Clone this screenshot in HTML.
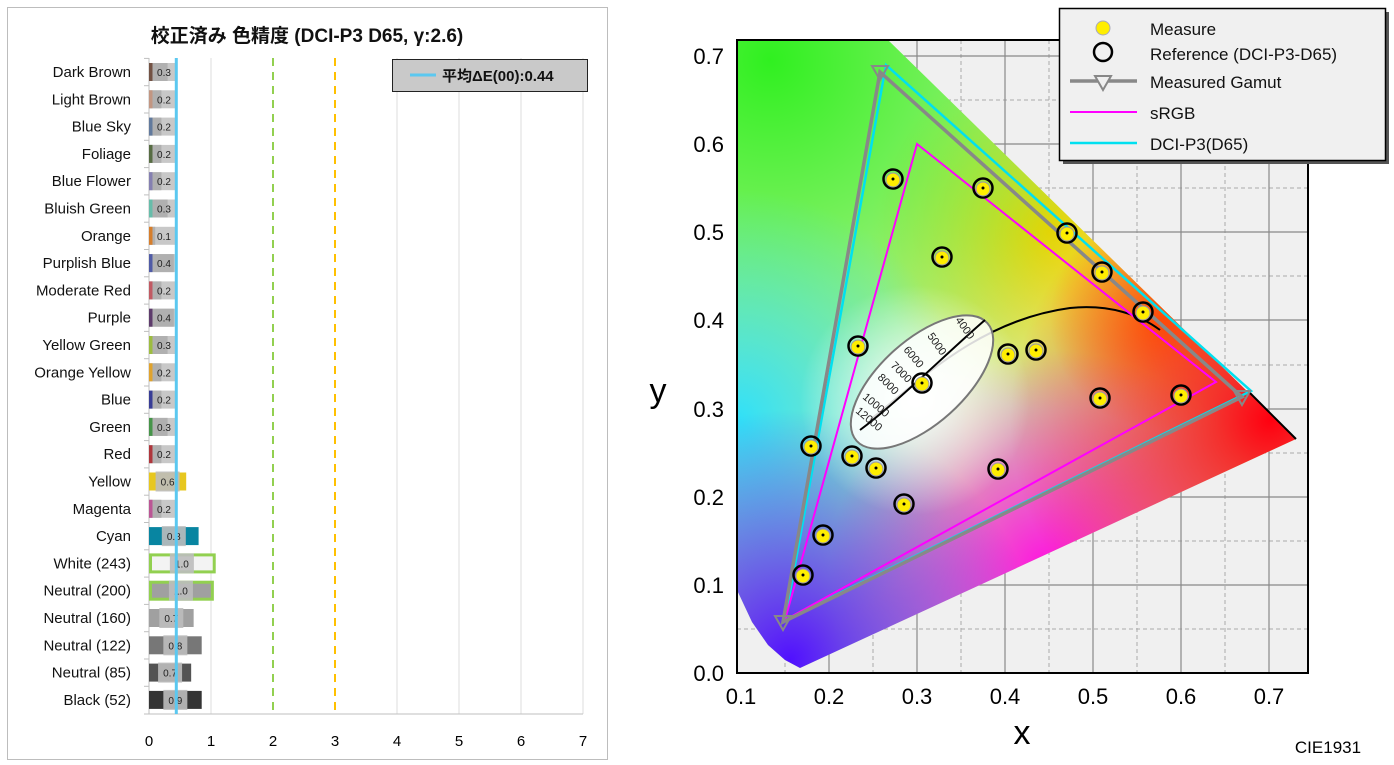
<!DOCTYPE html>
<html><head><meta charset="utf-8"><style>
body{margin:0;background:#fff;width:1394px;height:765px;overflow:hidden}
svg{display:block}
text{font-family:"Liberation Sans","Noto Sans CJK JP",sans-serif}
</style></head><body>
<svg width="1394" height="765" viewBox="0 0 1394 765" xmlns="http://www.w3.org/2000/svg">
<defs>
<clipPath id="plot"><rect x="737" y="40" width="571" height="633"/></clipPath>
<clipPath id="locus"><polygon points="737,40 888,40 1296,439 800,668 785,660 768,645 752,622 737,590"/></clipPath>
<radialGradient id="gG" cx="770" cy="60" r="380" gradientUnits="userSpaceOnUse"><stop offset="0" stop-color="#30f020"/><stop offset="1" stop-color="#30f020" stop-opacity="0"/></radialGradient>
<radialGradient id="gC" cx="737" cy="420" r="230" gradientUnits="userSpaceOnUse"><stop offset="0" stop-color="#30e0f8"/><stop offset="1" stop-color="#30e0f8" stop-opacity="0"/></radialGradient>
<radialGradient id="gB" cx="790" cy="660" r="250" gradientUnits="userSpaceOnUse"><stop offset="0" stop-color="#5010ff"/><stop offset="1" stop-color="#5010ff" stop-opacity="0"/></radialGradient>
<radialGradient id="gM" cx="1050" cy="570" r="220" gradientUnits="userSpaceOnUse"><stop offset="0" stop-color="#ff10e0"/><stop offset="1" stop-color="#ff10e0" stop-opacity="0"/></radialGradient>
<radialGradient id="gR" cx="1270" cy="420" r="260" gradientUnits="userSpaceOnUse"><stop offset="0" stop-color="#ff0010"/><stop offset="1" stop-color="#ff0010" stop-opacity="0"/></radialGradient>
<radialGradient id="gY" cx="1050" cy="230" r="180" gradientUnits="userSpaceOnUse"><stop offset="0" stop-color="#ffd000"/><stop offset="1" stop-color="#ffd000" stop-opacity="0"/></radialGradient>
<radialGradient id="gO" cx="1160" cy="320" r="110" gradientUnits="userSpaceOnUse"><stop offset="0" stop-color="#ff8000"/><stop offset="1" stop-color="#ff8000" stop-opacity="0"/></radialGradient>
<radialGradient id="gW" cx="915" cy="400" r="115" gradientUnits="userSpaceOnUse"><stop offset="0" stop-color="#ffffff"/><stop offset="1" stop-color="#ffffff" stop-opacity="0"/></radialGradient>
</defs>

<!-- LEFT CHART -->
<rect x="7.5" y="7.5" width="600" height="752" fill="#fff" stroke="#bdbdbd"/>
<text x="307" y="42" font-size="19" font-weight="bold" text-anchor="middle" fill="#111">校正済み 色精度 (DCI-P3 D65, γ:2.6)</text>
<g stroke="#dedede" stroke-width="1">
<line x1="211" y1="58" x2="211" y2="714"/><line x1="397" y1="58" x2="397" y2="714"/><line x1="459" y1="58" x2="459" y2="714"/><line x1="521" y1="58" x2="521" y2="714"/><line x1="583" y1="58" x2="583" y2="714"/>
</g>
<line x1="273" y1="58" x2="273" y2="714" stroke="#92d050" stroke-width="2" stroke-dasharray="8,6"/>
<line x1="335" y1="58" x2="335" y2="714" stroke="#ffc000" stroke-width="2" stroke-dasharray="8,6"/>
<line x1="149" y1="714" x2="583" y2="714" stroke="#bfbfbf"/>
<line x1="149" y1="58" x2="149" y2="714" stroke="#bfbfbf"/>
<g id="bars"></g>
<line x1="176.3" y1="58" x2="176.3" y2="714" stroke="#5bc8f0" stroke-width="3"/>
<g font-size="15" fill="#000" text-anchor="middle">
<text x="149" y="746">0</text><text x="211" y="746">1</text><text x="273" y="746">2</text><text x="335" y="746">3</text><text x="397" y="746">4</text><text x="459" y="746">5</text><text x="521" y="746">6</text><text x="583" y="746">7</text>
</g>
<rect x="392.5" y="59.5" width="195" height="32" fill="#c9c9c9" stroke="#222"/>
<line x1="410" y1="75" x2="436" y2="75" stroke="#5bc8f0" stroke-width="3"/>
<text x="442" y="81" font-size="15" font-weight="bold" fill="#111">平均ΔE(00):0.44</text>

<!-- RIGHT CHART -->
<rect x="737" y="40" width="571" height="633" fill="#f0f0f0"/>
<g clip-path="url(#plot)">
<g stroke="#aaa" stroke-width="1" stroke-dasharray="4,3">
<line x1="785" y1="40" x2="785" y2="673"/><line x1="873" y1="40" x2="873" y2="673"/><line x1="961" y1="40" x2="961" y2="673"/><line x1="1049" y1="40" x2="1049" y2="673"/><line x1="1137" y1="40" x2="1137" y2="673"/><line x1="1225" y1="40" x2="1225" y2="673"/>
<line x1="737" y1="629" x2="1308" y2="629"/><line x1="737" y1="541" x2="1308" y2="541"/><line x1="737" y1="453" x2="1308" y2="453"/><line x1="737" y1="365" x2="1308" y2="365"/><line x1="737" y1="276" x2="1308" y2="276"/><line x1="737" y1="188" x2="1308" y2="188"/><line x1="737" y1="100" x2="1308" y2="100"/>
</g>
<g stroke="#888" stroke-width="1.2">
<line x1="829" y1="40" x2="829" y2="673"/><line x1="917" y1="40" x2="917" y2="673"/><line x1="1005" y1="40" x2="1005" y2="673"/><line x1="1093" y1="40" x2="1093" y2="673"/><line x1="1181" y1="40" x2="1181" y2="673"/><line x1="1269" y1="40" x2="1269" y2="673"/>
<line x1="737" y1="585" x2="1308" y2="585"/><line x1="737" y1="497" x2="1308" y2="497"/><line x1="737" y1="409" x2="1308" y2="409"/><line x1="737" y1="320" x2="1308" y2="320"/><line x1="737" y1="232" x2="1308" y2="232"/><line x1="737" y1="144" x2="1308" y2="144"/><line x1="737" y1="56" x2="1308" y2="56"/>
</g>
<g clip-path="url(#locus)">
<rect x="700" y="0" width="650" height="700" fill="#c8f0a0"/>
<rect x="700" y="0" width="650" height="700" fill="url(#gY)"/>
<rect x="700" y="0" width="650" height="700" fill="url(#gO)"/>
<rect x="700" y="0" width="650" height="700" fill="url(#gG)"/>
<rect x="700" y="0" width="650" height="700" fill="url(#gC)"/>
<rect x="700" y="0" width="650" height="700" fill="url(#gM)"/>
<rect x="700" y="0" width="650" height="700" fill="url(#gR)"/>
<rect x="700" y="0" width="650" height="700" fill="url(#gB)"/>
<rect x="700" y="0" width="650" height="700" fill="url(#gW)"/>
</g>
<line x1="1296" y1="439" x2="1250" y2="393" stroke="#000" stroke-width="2"/>
</g>
<rect x="737" y="40" width="571" height="633" fill="none" stroke="#000" stroke-width="2"/>

<!-- planckian -->
<path d="M870,420 C920,380 980,320 1070,308 C1110,304 1140,315 1160,330" fill="none" stroke="#000" stroke-width="2"/>
<ellipse cx="922" cy="382" rx="88" ry="42" transform="rotate(-42 922 382)" fill="#fff" fill-opacity="0.85" stroke="#777" stroke-width="2"/>
<path d="M860,430 C900,400 950,350 985,320" fill="none" stroke="#000" stroke-width="2"/>
<g font-size="11" fill="#222">
<text x="955" y="320" transform="rotate(55 955 320)">4000</text>
<text x="927" y="336" transform="rotate(55 927 336)">5000</text>
<text x="903" y="350" transform="rotate(50 903 350)">6000</text>
<text x="890" y="366" transform="rotate(45 890 366)">7000</text>
<text x="877" y="378" transform="rotate(45 877 378)">8000</text>
<text x="862" y="398" transform="rotate(40 862 398)">10000</text>
<text x="855" y="412" transform="rotate(40 855 412)">12000</text>
</g>

<!-- gamuts -->
<polygon points="886,65 1251,391 785,620" fill="none" stroke="#00e0f0" stroke-width="2.5"/>
<polygon points="917,144 1216,382 785,620" fill="none" stroke="#ff00ff" stroke-width="2"/>
<polygon points="880,72 1242,397 783,622" fill="none" stroke="#888" stroke-width="3.5"/>
<g fill="none" stroke="#888" stroke-width="2">
<polygon points="872,66 888,66 880,80"/><polygon points="1234,391 1250,391 1242,405"/><polygon points="775,616 791,616 783,630"/>
</g>

<g id="pts"></g>

<g font-size="22" fill="#000" text-anchor="end">
<text x="724" y="64">0.7</text><text x="724" y="152">0.6</text><text x="724" y="240">0.5</text><text x="724" y="328">0.4</text><text x="724" y="417">0.3</text><text x="724" y="505">0.2</text><text x="724" y="593">0.1</text><text x="724" y="681">0.0</text>
</g>
<g font-size="22" fill="#000" text-anchor="middle">
<text x="741" y="704">0.1</text><text x="829" y="704">0.2</text><text x="917" y="704">0.3</text><text x="1005" y="704">0.4</text><text x="1093" y="704">0.5</text><text x="1181" y="704">0.6</text><text x="1269" y="704">0.7</text>
</g>
<text x="658" y="402" font-size="34" text-anchor="middle">y</text>
<text x="1022" y="744" font-size="34" text-anchor="middle">x</text>
<text x="1328" y="753" font-size="17" text-anchor="middle">CIE1931</text>

<!-- legend -->
<rect x="1063" y="12" width="326" height="152" fill="#555"/>
<rect x="1059.5" y="8.5" width="326" height="152" fill="#f0f0f0" stroke="#000" stroke-width="1.5"/>
<circle cx="1103" cy="28" r="7" fill="#ffee00" stroke="#aab" stroke-width="1"/>
<circle cx="1103" cy="52" r="9" fill="none" stroke="#000" stroke-width="2.5"/>
<line x1="1070" y1="81" x2="1137" y2="81" stroke="#888" stroke-width="3.5"/>
<polygon points="1095,76 1111,76 1103,90" fill="#f0f0f0" stroke="#888" stroke-width="2"/>
<line x1="1070" y1="112" x2="1137" y2="112" stroke="#ff00ff" stroke-width="2"/>
<line x1="1070" y1="143" x2="1137" y2="143" stroke="#00e0f0" stroke-width="2.5"/>
<g font-size="17" fill="#111">
<text x="1150" y="35">Measure</text><text x="1150" y="60">Reference (DCI-P3-D65)</text><text x="1150" y="88">Measured Gamut</text><text x="1150" y="119">sRGB</text><text x="1150" y="150">DCI-P3(D65)</text>
</g>
</svg>
<script>
const ns="http://www.w3.org/2000/svg";
function el(p,t,a,txt){const e=document.createElementNS(ns,t);for(const k in a)e.setAttribute(k,a[k]);if(txt!=null)e.textContent=txt;p.appendChild(e);return e;}
const bars=document.getElementById('bars');
const rows=[["Dark Brown","#735244",0.3],["Light Brown","#c29682",0.2],["Blue Sky","#627a9d",0.2],["Foliage","#576c43",0.2],["Blue Flower","#8580b1",0.2],["Bluish Green","#67bdaa",0.3],["Orange","#d67e2c",0.1],["Purplish Blue","#505ba6",0.4],["Moderate Red","#c15a63",0.2],["Purple","#5e3c6c",0.4],["Yellow Green","#9dbc40",0.3],["Orange Yellow","#e0a32e",0.2],["Blue","#383d96",0.2],["Green","#469449",0.3],["Red","#af363c",0.2],["Yellow","#e7c71f",0.6],["Magenta","#bb5695",0.2],["Cyan","#0885a1",0.8],["White (243)","#f3f3f3",1.06],["Neutral (200)","#a0a0a0",1.03],["Neutral (160)","#a0a0a0",0.72],["Neutral (122)","#777777",0.85],["Neutral (85)","#535353",0.68],["Black (52)","#343434",0.85]];
const lbl=["0.3","0.2","0.2","0.2","0.2","0.3","0.1","0.4","0.2","0.4","0.3","0.2","0.2","0.3","0.2","0.6","0.2","0.8","1.0","1.0","0.7","0.8","0.7","0.9"];
rows.forEach((r,i)=>{const cy=72+i*27.3;
el(bars,'line',{x1:144,x2:149,y1:cy-13.6,y2:cy-13.6,stroke:'#bfbfbf'});
el(bars,'text',{x:131,y:cy+5,'font-size':15,'text-anchor':'end',fill:'#111'},r[0]);
const w=r[2]*62;
if(r[2]<0.5){el(bars,'rect',{x:149,y:cy-9,width:28,height:18,fill:'#c8c8c8'});el(bars,'rect',{x:149,y:cy-9,width:Math.max(w,4),height:18,fill:'#b0b0b0'});el(bars,'rect',{x:149,y:cy-9,width:3.5,height:18,fill:r[1]});}
else el(bars,'rect',{x:149,y:cy-9,width:w,height:18,fill:r[1]});
if(i==18||i==19) el(bars,'rect',{x:150.5,y:cy-8.5,width:w-2,height:17,fill:'none',stroke:'#92d050','stroke-width':3});
const c=Math.max(149+w/2,164);
if(r[2]>=0.5) el(bars,'rect',{x:c-12,y:cy-10,width:24,height:20,fill:'#bdbdbd','fill-opacity':0.9});
el(bars,'text',{x:c,y:cy+4,'font-size':10,'text-anchor':'middle',fill:'#222'},lbl[i]);
});
el(bars,'line',{x1:144,x2:149,y1:714,y2:714,stroke:'#bfbfbf'});
const pts=[[893,179],[983,188],[1067,233],[942,257],[1102,272],[1143,312],[858,346],[1008,354],[1036,350],[922,383],[1100,398],[1181,395],[811,446],[852,456],[876,468],[998,469],[904,504],[823,535],[803,575]];
const pg=document.getElementById('pts');
pts.forEach(p=>{el(pg,'circle',{cx:p[0],cy:p[1],r:9.5,fill:'none',stroke:'#000','stroke-width':2.5});el(pg,'circle',{cx:p[0],cy:p[1]+1,r:7,fill:'#ffee00',stroke:'#99a','stroke-width':1});el(pg,'circle',{cx:p[0],cy:p[1],r:1.5,fill:'#000'});});
</script>
</body></html>
